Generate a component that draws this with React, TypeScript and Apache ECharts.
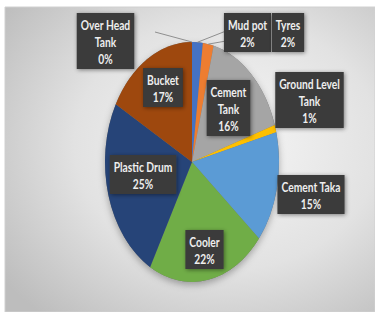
import React, { useEffect, useRef } from "react";
import * as echarts from "echarts";

// ---- data ----
const categories = [
  "Mud pot",
  "Tyres",
  "Cement\nTank",
  "Ground Level\nTank",
  "Cement Taka",
  "Cooler",
  "Plastic Drum",
  "Bucket",
  "Over Head\nTank",
];
const values = [2, 2, 16, 1, 15, 22, 25, 17, 0];
const colors = [
  "#4472C4",
  "#ED7D31",
  "#A5A5A5",
  "#FFC000",
  "#5B9BD5",
  "#70AD47",
  "#264478",
  "#9E480E",
  "#636363",
];

// ---- layout (label anchors: center x, top y) ----
const labelPos: number[][] = [
  [247.5, 13],
  [288, 13],
  [228.5, 80],
  [309.5, 72],
  [311, 175],
  [204.5, 230],
  [143, 155],
  [163, 68],
  [105.5, 13],
];
const leaderFrom: (number[] | null)[] = [
  [226, 31],
  [226, 41],
  null,
  null,
  null,
  null,
  null,
  null,
  [155, 32],
];

const CX = 192;
const CY = 162;
const RX = 87;
const RY = 120;
const FONT = "Lato, 'Noto Sans', sans-serif";
const TEXT_SCALE_X = 0.79;

export default function App() {
  const ref = useRef<HTMLDivElement>(null);

  useEffect(() => {
    document.body.style.margin = "0";
    if (!ref.current) return;
    const chart = echarts.init(ref.current, undefined, { renderer: "svg" });
    const total = values.reduce((a, b) => a + b, 0);
    const cum: number[] = [];
    let acc = 0;
    values.forEach((v) => {
      cum.push(acc);
      acc += v;
    });

    const renderItem = (params: any, api: any) => {
      const i = params.dataIndex;
      const v = api.value(0);
      const start = -Math.PI / 2 + (cum[i] / total) * Math.PI * 2;
      const end = start + (v / total) * Math.PI * 2;
      const mid = (start + end) / 2;
      const children: any[] = [];
      if (i === 0) {
        children.push({
          type: "ellipse",
          shape: { cx: CX, cy: CY, rx: RX, ry: RY },
          style: {
            fill: "#777",
            shadowBlur: 7,
            shadowColor: "rgba(0,0,0,0.3)",
            shadowOffsetY: 3,
          },
          z2: 0,
        });
      }
      if (v > 0) {
        children.push({
          type: "sector",
          x: CX,
          y: CY,
          scaleY: RY / RX,
          shape: {
            cx: 0,
            cy: 0,
            r: RX,
            r0: 0,
            startAngle: start,
            endAngle: end,
            clockwise: true,
          },
          style: { fill: colors[i] },
          z2: 1,
        });
      }
      const lf = leaderFrom[i];
      if (lf) {
        children.push({
          type: "line",
          shape: {
            x1: lf[0],
            y1: lf[1],
            x2: CX + RX * Math.cos(mid),
            y2: CY + RY * Math.sin(mid),
          },
          style: { stroke: "#8f8f8f", lineWidth: 1 },
          z2: 5,
        });
      }
      const pct = Math.round((v / total) * 100) + "%";
      children.push({
        type: "text",
        x: labelPos[i][0],
        y: labelPos[i][1],
        scaleX: TEXT_SCALE_X,
        style: {
          text: categories[i] + "\n" + pct,
          fill: "#eeeeee",
          fontFamily: FONT,
          fontWeight: "bold",
          fontSize: 13,
          lineHeight: 17,
          align: "center",
          verticalAlign: "top",
          backgroundColor: "#3a3a3a",
          padding: [3, 5, 2, 5],
          shadowBlur: 4,
          shadowColor: "rgba(0,0,0,0.45)",
          shadowOffsetX: 1,
          shadowOffsetY: 1,
        },
        z2: 10,
      });
      return { type: "group", children };
    };

    chart.setOption({
      animation: false,
      graphic: [
        {
          type: "rect",
          shape: { x: 5, y: 7, width: 370, height: 305 },
          style: {
            fill: {
              type: "radial",
              x: 0.6,
              y: 0.45,
              r: 0.75,
              colorStops: [
                { offset: 0, color: "#f6f6f6" },
                { offset: 0.55, color: "#e2e2e2" },
                { offset: 1, color: "#bdbdbd" },
              ],
            },
            stroke: "#d0d0d0",
            lineWidth: 1,
          },
        },
      ],
      series: [
        {
          type: "custom",
          coordinateSystem: "none",
          renderItem,
          data: values,
        },
      ],
    });
    return () => chart.dispose();
  }, []);

  return <div ref={ref} style={{ width: 375, height: 312, background: "#ffffff" }} />;
}
